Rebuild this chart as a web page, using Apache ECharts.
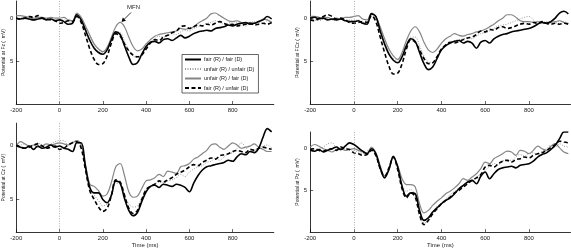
<!DOCTYPE html>
<html><head><meta charset="utf-8">
<script src="https://cdn.jsdelivr.net/npm/echarts@6/dist/echarts.min.js"></script>
<style>html,body{margin:0;padding:0;background:#fff}#c{width:571px;height:249px}</style>
</head><body><div id="c"></div>
<script>
// Time points (ms)
const times = [-200,-180,-160,-140,-120,-100,-80,-60,-40,-20,0,20,40,60,80,100,120,140,160,180,200,220,240,260,280,300,320,340,360,380,400,420,440,460,480,500,520,540,560,580,600,620,640,660,680,700,720,740,760,780,800,820,840,860,880,900,920,940,960,980];
const seriesNames = ['fair (R) / fair (D)','unfair (R) / unfair (D)','unfair (R) / fair (D)','fair (R) / unfair (D)'];
const electrodeLabels = ['Potential at Fz (  mV)','Potential at FCz (  mV)','Potential at Cz (  mV)','Potential at Pz (  mV)'];
const xTickLabels = [-200,0,200,400,600,800];
const yTickLabels = [0,5];

// Fz
const fzFairFair = [0.0,0.1,0.0,0.1,0.2,0.1,0.0,0.2,0.1,0.3, 0.2,0.4,0.7,0.6,-0.4,0.2,1.4,2.6,3.5,4.0, 4.2,3.7,2.5,1.6,1.9,3.2,4.5,5.4,5.2,4.2, 3.3,2.8,2.7,2.9,2.5,2.4,2.6,2.3,2.0,2.3, 2.1,1.8,1.6,1.5,1.4,1.5,1.2,1.1,1.0,0.8, 0.9,0.7,0.6,0.5,0.7,0.6,0.4,0.2,-0.2,0.1];
const fzUnfairUnfair = [0.1,0.0,-0.1,0.1,0.2,0.0,0.1,0.1,0.0,0.2, 0.3,0.2,0.4,0.5,-0.3,0.1,1.1,2.3,3.3,3.9, 4.0,3.4,2.4,1.7,1.7,2.7,3.7,4.4,4.6,4.2, 3.4,2.9,2.4,2.1,2.2,2.0,1.8,1.9,1.6,1.4, 1.5,1.2,1.0,0.9,0.6,0.5,0.3,0.5,0.7,0.6, 0.4,0.5,0.8,0.9,0.6,0.4,0.5,0.6,0.3,0.4];
const fzUnfairFair = [-0.3,-0.3,-0.2,-0.1,0.0,-0.1,-0.1,0.0,-0.1,0.0, 0.0,-0.1,0.2,0.3,-0.6,-0.1,0.9,2.0,3.0,3.6, 3.9,3.4,2.2,1.0,0.5,1.0,2.2,3.3,3.8,3.6, 3.0,2.5,2.1,1.9,1.8,1.7,1.6,1.5,1.2,1.3, 1.2,1.0,0.6,0.3,0.0,-0.5,-0.6,-0.3,0.0,0.3, 0.4,0.3,0.5,0.6,0.5,0.6,0.4,0.1,0.2,0.5];
const fzFairUnfair = [0.0,0.1,0.0,-0.2,-0.1,-0.3,0.0,0.1,0.2,0.3, 0.6,0.5,0.3,0.4,-0.2,0.5,2.0,3.6,4.8,5.4, 5.3,4.4,2.9,1.8,2.1,3.0,3.8,4.3,4.5,4.3, 3.6,2.9,2.5,2.6,2.2,2.0,1.7,1.5,1.0,0.9, 1.2,1.0,0.8,0.9,0.7,0.8,0.6,0.4,0.6,0.8, 0.7,0.9,0.8,0.7,0.6,0.8,0.7,0.6,0.7,0.5];

// FCz
const fczFairFair = [0.0,-0.1,0.1,0.0,0.2,0.1,0.2,0.1,0.3,0.4, 0.4,0.3,0.6,0.7,-0.5,-0.2,1.5,3.0,4.2,4.9, 5.2,4.5,3.2,2.4,2.7,4.0,5.3,6.0,5.7,4.7, 3.7,3.2,2.9,2.7,2.6,2.9,2.7,2.9,3.5,2.8, 2.6,2.9,2.4,2.1,1.9,1.8,1.6,1.5,1.4,1.3, 1.2,1.0,0.7,0.5,0.6,0.4,0.0,-0.6,-0.8,-0.5];
const fczUnfairUnfair = [0.1,0.2,0.3,0.1,0.0,0.2,0.3,0.1,0.2,0.2, 0.3,0.2,0.5,0.4,-0.4,0.0,1.3,2.8,4.0,4.7, 5.0,4.4,3.2,2.2,2.2,3.2,4.4,5.1,5.2,4.5, 3.6,3.2,3.0,2.6,2.5,2.4,2.3,2.4,2.1,1.8, 1.7,1.5,1.2,0.9,0.8,0.7,0.5,0.3,0.1,-0.1, -0.2,0.2,0.6,0.5,0.4,0.5,0.6,0.3,0.4,0.6];
const fczUnfairFair = [-0.2,-0.2,-0.1,0.0,-0.1,0.1,0.0,0.1,-0.1,-0.1, -0.2,-0.3,0.1,0.2,-0.6,-0.2,1.0,2.4,3.6,4.4, 4.8,4.0,2.6,1.5,1.0,1.6,2.8,3.7,4.0,3.6, 2.9,2.4,2.1,1.8,2.0,2.1,1.9,1.8,1.6,1.5, 1.3,1.0,0.7,0.3,0.0,-0.4,-0.4,-0.1,0.3,0.4, 0.4,0.5,0.4,0.5,0.6,0.5,0.4,0.3,0.5,0.6];
const fczFairUnfair = [0.2,0.3,0.0,-0.2,-0.4,-0.2,0.1,0.0,0.2,0.5, 0.6,0.5,0.4,0.5,-0.3,0.4,2.2,4.0,5.6,6.5, 6.4,5.3,3.6,2.5,2.8,3.7,4.7,5.3,5.2,4.5, 3.6,3.1,2.8,2.9,2.7,2.5,2.3,2.2,1.9,1.5, 1.6,1.3,1.4,1.1,1.0,1.2,1.1,0.9,0.7,0.6, 0.7,0.5,0.6,0.4,0.6,0.7,0.6,0.7,0.6,0.7];

// Cz
const czFairFair = [0.1,0.2,0.3,0.1,0.4,0.1,0.3,0.2,0.0,0.2, 0.1,0.3,0.4,0.6,-0.2,-0.2,2.0,3.9,4.4,4.4, 5.0,5.3,4.6,3.3,3.5,4.9,6.0,6.5,6.2,5.2, 4.3,3.8,3.7,3.9,3.6,3.7,3.8,3.6,3.7,3.9, 4.3,3.5,2.8,2.3,2.0,1.9,1.8,1.7,1.6,1.4, 1.5,1.1,0.8,0.9,0.6,0.7,0.3,-0.7,-1.5,-1.2];
const czUnfairUnfair = [0.2,0.0,-0.1,0.1,0.0,-0.2,0.0,0.1,-0.1,-0.3, -0.4,-0.4,0.0,-0.3,-0.3,0.1,2.0,3.8,4.6,5.1, 5.6,5.4,4.5,3.5,3.6,4.6,5.4,5.7,5.6,4.9, 4.1,3.9,3.6,3.4,3.5,3.3,3.2,3.0,2.7,2.9, 2.5,2.2,2.0,1.9,1.6,1.5,1.2,1.4,1.1,0.8, 0.7,0.3,-0.2,0.2,0.6,0.5,0.3,0.1,0.0,0.3];
const czUnfairFair = [0.1,-0.3,-0.1,0.1,0.0,0.2,0.1,-0.1,0.0,-0.1, -0.2,-0.1,0.0,-0.2,-0.4,0.0,1.8,3.6,3.8,4.2, 4.7,4.5,3.4,2.0,1.7,2.8,4.3,4.8,4.7,4.0, 3.3,3.2,3.0,2.7,2.9,2.4,2.5,2.6,2.0,1.9, 1.7,1.3,1.1,0.8,0.5,0.0,-0.1,0.2,0.4,0.1, -0.2,0.0,0.3,0.2,0.1,-0.1,0.2,0.4,0.6,0.6];
const czFairUnfair = [0.0,0.2,0.3,0.2,0.0,-0.1,0.1,0.3,0.2,0.1, 0.4,0.3,0.0,-0.2,-0.3,0.3,2.3,4.2,5.0,5.7, 6.1,5.8,4.6,3.2,3.4,4.6,5.8,6.3,6.0,5.0, 4.1,3.8,3.6,3.3,3.4,3.2,3.0,2.7,2.5,2.3, 2.0,1.8,1.9,1.6,1.4,1.2,1.3,1.0,0.9,0.8, 0.6,0.5,0.6,0.7,0.4,0.5,0.3,0.2,0.3,0.4];

// Pz
const pzFairFair = [0.2,0.3,0.1,0.4,0.2,0.0,-0.2,0.1,-0.3,-0.7, -0.5,-0.1,0.3,0.6,0.0,0.6,2.3,3.5,2.5,0.9, 2.2,4.5,5.7,5.3,5.4,7.4,8.6,8.3,7.6,7.1, 6.6,6.2,5.9,5.4,4.8,4.4,4.0,3.8,4.2,3.3, 2.8,3.6,3.0,2.5,2.3,2.2,2.1,2.3,2.0,1.9, 1.8,1.5,1.0,0.7,0.5,0.1,-0.4,-1.2,-2.0,-2.0];
const pzUnfairUnfair = [0.0,0.2,0.0,-0.2,-0.6,-0.7,0.0,0.2,-0.1,0.1, 0.2,0.4,0.6,0.3,-0.1,0.7,2.2,3.3,2.5,1.1, 2.3,4.3,5.1,4.9,5.6,7.6,8.9,8.7,7.6,6.9, 6.5,6.0,5.5,5.1,4.7,4.5,4.1,3.8,3.4,3.0, 2.6,2.1,1.8,1.9,1.5,1.3,1.4,1.0,0.7,0.9, 0.6,0.5,0.7,0.3,0.0,-0.4,-0.2,-0.6,-0.3,-0.2];
const pzUnfairFair = [-0.2,-0.5,-0.3,0.0,0.2,0.4,0.1,0.0,0.2,0.1, 0.0,0.2,0.4,0.5,-0.2,0.5,2.0,3.3,2.4,1.1, 2.0,3.6,4.3,4.3,4.6,6.6,7.7,7.4,6.8,6.3, 5.9,5.4,5.1,4.7,4.2,3.6,3.8,3.4,3.0,2.4, 1.6,1.8,1.2,0.9,0.6,0.3,0.4,0.8,0.2,0.3, 0.6,0.2,-0.3,0.0,0.2,-0.3,-0.6,-0.1,0.4,0.6];
const pzFairUnfair = [0.1,0.0,0.2,0.3,0.1,0.0,0.2,-0.2,0.0,0.1, 0.5,0.6,0.8,0.7,0.2,0.8,2.4,3.3,2.3,1.0, 2.5,4.8,5.9,5.3,5.8,7.9,9.1,8.6,7.8,7.2, 6.6,6.2,5.8,5.3,5.0,4.6,4.2,3.8,3.5,3.1, 2.2,2.0,2.2,1.8,1.5,1.4,1.6,1.3,1.2,1.0, 1.1,0.8,0.6,0.5,0.2,-0.1,-0.5,-0.9,-0.8,-0.7];

const panelData = [
  [fzFairFair, fzUnfairUnfair, fzUnfairFair, fzFairUnfair],
  [fczFairFair, fczUnfairUnfair, fczUnfairFair, fczFairUnfair],
  [czFairFair, czUnfairUnfair, czUnfairFair, czFairUnfair],
  [pzFairFair, pzUnfairUnfair, pzUnfairFair, pzFairUnfair]
];
const yRanges = [[-2,10],[-2,10],[-2,8],[-2,10]];

const FONT = 'Liberation Sans';
const grids = [
  {left:13.5, top:1, width:260.3, height:103},
  {left:310.2, top:1, width:260.3, height:103},
  {left:13.5, top:123.2, width:260.3, height:110.7},
  {left:310.2, top:132, width:260.3, height:102.3}
];
const styles = [
  {color:'#000', width:1.6, type:'solid', z:5},
  {color:'#9a9a9a', width:1.0, type:[1,1.5], z:3},
  {color:'#858585', width:1.2, type:'solid', z:2},
  {color:'#000', width:1.6, type:[4,2.5], z:4}
];

const xAxes = [], yAxes = [], series = [];
for (let p = 0; p < 4; p++) {
  xAxes.push({
    gridIndex:p, type:'value', min:-200, max:990, interval:200,
    axisLine:{show:true, onZero:false, lineStyle:{color:'#000', width:0.8}},
    axisTick:{show:true, inside:true, length:3, lineStyle:{color:'#000', width:0.6}, customValues:xTickLabels},
    axisLabel:{fontSize:6, color:'#222', margin:3, fontFamily:FONT, customValues:xTickLabels},
    splitLine:{show:false},
    name: p>=2 ? 'Time (ms)' : '', nameLocation:'middle', nameGap:9,
    nameTextStyle:{fontSize:6, color:'#222', fontFamily:FONT}
  });
  yAxes.push({
    gridIndex:p, type:'value', inverse:true, min:yRanges[p][0], max:yRanges[p][1],
    axisLine:{show:true, onZero:false, lineStyle:{color:'#000', width:0.8}},
    axisTick:{show:true, inside:true, length:3, lineStyle:{color:'#000', width:0.6}, customValues:yTickLabels},
    axisLabel:{fontSize:6, color:'#222', margin:3, fontFamily:FONT, customValues:yTickLabels},
    splitLine:{show:false},
    name: electrodeLabels[p], nameLocation:'middle', nameRotate:90, nameGap:8,
    nameTextStyle:{fontSize:5, color:'#222', fontFamily:FONT}
  });
  const order = [2,1,3,0];
  order.forEach((s, k) => {
    const st = styles[s];
    const ser = {
      name: seriesNames[s], type:'line', xAxisIndex:p, yAxisIndex:p,
      data: times.map((t,j) => [t, panelData[p][s][j]]),
      showSymbol:false, symbol:'none', smooth:0.35, z:st.z,
      lineStyle:{color:st.color, width:st.width, type:st.type},
      itemStyle:{color:st.color}, silent:true, animation:false
    };
    if (k === 0) {
      ser.markLine = {silent:true, symbol:'none', label:{show:false},
        lineStyle:{color:'#999', type:[1,1.5], width:0.8}, data:[{xAxis:0}], animation:false};
    }
    series.push(ser);
  });
}

const chart = echarts.init(document.getElementById('c'), null, {renderer:'canvas'});
chart.setOption({
  animation:false,
  textStyle:{fontFamily:FONT},
  grid: grids,
  xAxis: xAxes,
  yAxis: yAxes,
  legend:{
    data: seriesNames, orient:'vertical', left:182, top:54.5,
    backgroundColor:'#fff', borderColor:'#000', borderWidth:0.6,
    padding:[2,4,2,2], itemWidth:16, itemHeight:5, itemGap:3.5,
    itemStyle:{opacity:0},
    textStyle:{fontSize:5.5, color:'#222', fontFamily:FONT, padding:[0,0,0,-2]}
  },
  graphic:[
    {type:'text', left:127, top:4, style:{text:'MFN', fontSize:6, fill:'#222', fontFamily:FONT}},
    {type:'line', shape:{x1:131, y1:12.5, x2:124, y2:19.5}, style:{stroke:'#000', lineWidth:0.8}},
    {type:'polygon', shape:{points:[[121.5,22],[122.8,17.6],[126,20.8]]}, style:{fill:'#000'}}
  ],
  series: series
});
</script></body></html>
